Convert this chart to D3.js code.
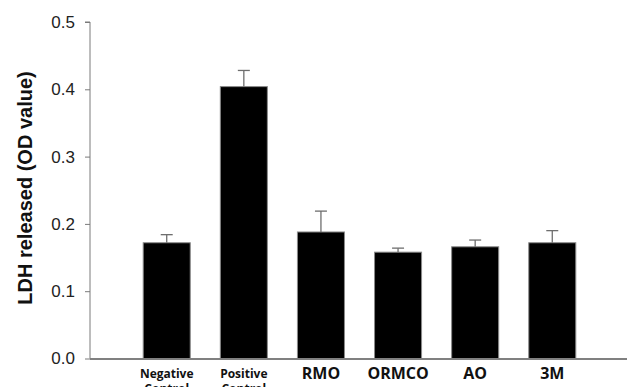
<!DOCTYPE html>
<html>
<head>
<meta charset="utf-8">
<script src="https://cdn.jsdelivr.net/npm/d3@7"></script>
<style>
  body { margin: 0; background: #fff; }
  svg { display: block; }
</style>
</head>
<body>
<div id="container"></div>
<script>
// data
const groups = ["Negative Control", "Positive Control", "RMO", "ORMCO", "AO", "3M"];
const means  = [0.172, 0.404, 0.188, 0.158, 0.166, 0.172];
const errors = [0.012, 0.024, 0.031, 0.006, 0.010, 0.018];
const yTicks = [0.0, 0.1, 0.2, 0.3, 0.4, 0.5];

const width = 627, height = 387;
const margin = {top: 22, bottom: 28.5, left: 90, right: 0};

const svg = d3.select("#container")
  .append("svg")
  .attr("width", width)
  .attr("height", height);

const xScale = d3.scaleBand()
  .domain(groups)
  .range([margin.left, 629])
  .paddingInner(0.39)
  .paddingOuter(0.69);

const yScale = d3.scaleLinear()
  .domain([0, 0.5])
  .range([height - margin.bottom, margin.top]);

// y axis
const yAxis = d3.axisLeft(yScale)
  .tickValues(yTicks)
  .tickFormat(d3.format(".1f"))
  .tickSize(5)
  .tickPadding(10);

const yAxisGroup = svg.append("g")
  .attr("transform", `translate(${margin.left},0)`)
  .call(yAxis);

yAxisGroup.select(".domain").attr("stroke", "#7a7a7a").attr("d", `M-5,${yScale(0.5)}H0V${yScale(0)}`);
yAxisGroup.selectAll(".tick line").attr("stroke", "#7a7a7a");
yAxisGroup.selectAll(".tick text")
  .attr("fill", "#222")
  .style("font-family", "'Liberation Sans', Arial, sans-serif")
  .style("font-size", "17px");

// bars
svg.selectAll("rect.bar")
  .data(groups)
  .join("rect")
  .attr("class", "bar")
  .attr("x", d => xScale(d))
  .attr("width", xScale.bandwidth())
  .attr("y", (d, i) => yScale(means[i]))
  .attr("height", (d, i) => yScale(0) - yScale(means[i]))
  .attr("fill", "#000")
  .attr("stroke", "#8a8a8a")
  .attr("stroke-width", 1);

// error bars (upper only)
const err = svg.selectAll("g.err")
  .data(groups)
  .join("g")
  .attr("class", "err")
  .attr("stroke", "#6e6e6e")
  .attr("stroke-width", 1.3);

err.append("line")
  .attr("x1", d => xScale(d) + xScale.bandwidth() / 2)
  .attr("x2", d => xScale(d) + xScale.bandwidth() / 2)
  .attr("y1", (d, i) => yScale(means[i]))
  .attr("y2", (d, i) => yScale(means[i] + errors[i]));

err.append("line")
  .attr("x1", d => xScale(d) + xScale.bandwidth() / 2 - 6)
  .attr("x2", d => xScale(d) + xScale.bandwidth() / 2 + 6)
  .attr("y1", (d, i) => yScale(means[i] + errors[i]))
  .attr("y2", (d, i) => yScale(means[i] + errors[i]));

// x axis baseline
svg.append("line")
  .attr("x1", margin.left)
  .attr("x2", width)
  .attr("y1", yScale(0) + 0.5)
  .attr("y2", yScale(0) + 0.5)
  .attr("stroke", "#808080")
  .attr("stroke-width", 2);

// category labels
const labels = svg.selectAll("text.xlab")
  .data(groups)
  .join("text")
  .attr("class", "xlab")
  .attr("text-anchor", "middle")
  .attr("fill", "#111")
  .style("font-family", "'Open Sans', sans-serif")
  .style("font-weight", "bold")
  .style("font-size", d => d.includes(" ") ? "12px" : "16px");

labels.each(function(d) {
  const words = d.split(" ");
  const cx = xScale(d) + xScale.bandwidth() / 2;
  const t = d3.select(this);
  words.forEach((w, j) => {
    t.append("tspan")
      .attr("x", cx)
      .attr("y", words.length > 1 ? 377.5 + j * 15 : 379)
      .text(w);
  });
});

// y axis title
svg.append("text")
  .attr("transform", "rotate(-90)")
  .attr("x", -188)
  .attr("y", 32)
  .attr("text-anchor", "middle")
  .attr("fill", "#111")
  .style("font-family", "'Liberation Sans', Arial, sans-serif")
  .style("font-weight", "bold")
  .style("font-size", "20px")
  .text("LDH released (OD value)");
</script>
</body>
</html>
